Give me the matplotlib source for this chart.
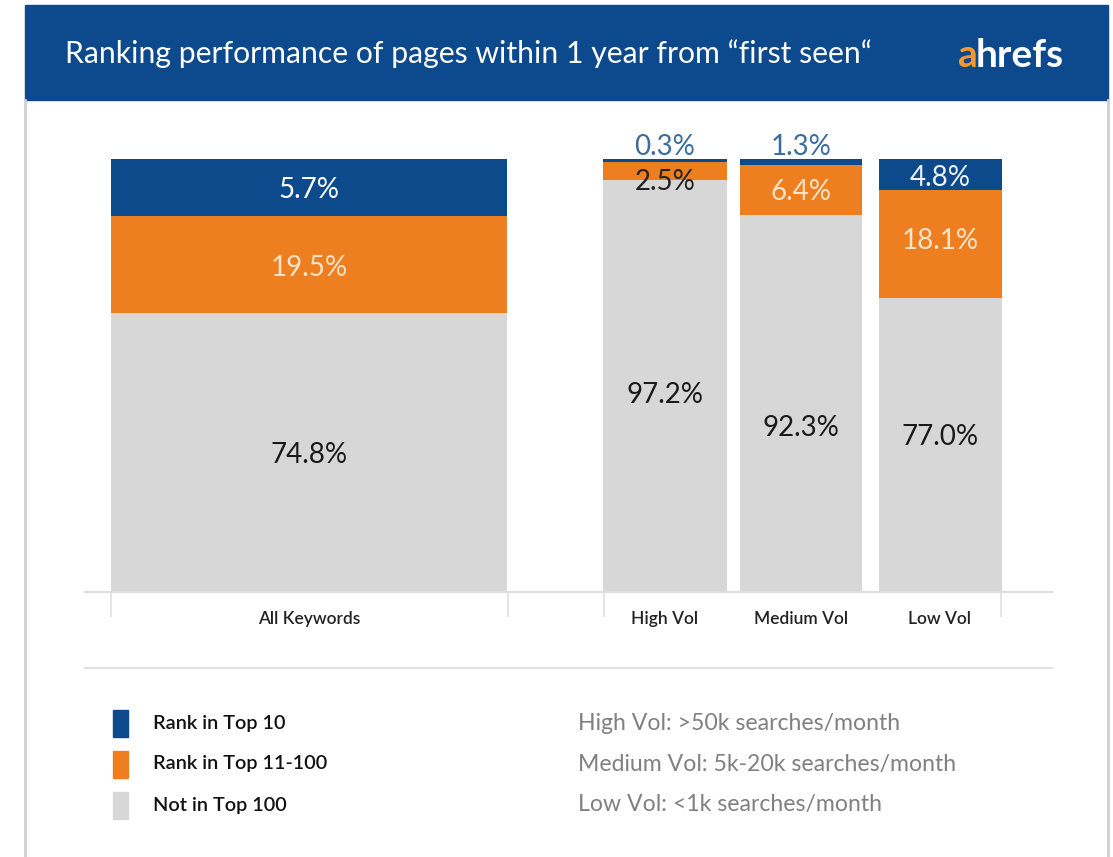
import matplotlib.pyplot as plt
import matplotlib.patches as mpatches

plt.rcParams['font.family'] = ['Lato', 'DejaVu Sans']

# data
categories = ["All Keywords", "High Vol", "Medium Vol", "Low Vol"]
# segment heights as drawn in the picture (% of bar height)
top10_drawn = [13.2, 0.8, 1.4, 7.2]
top100_drawn = [22.4, 4.0, 11.5, 24.9]
not100_drawn = [64.4, 95.2, 87.1, 67.9]
# values printed on the bars
top10_lbl = ["5.7%", "0.3%", "1.3%", "4.8%"]
top100_lbl = ["19.5%", "2.5%", "6.4%", "18.1%"]
not100_lbl = ["74.8%", "97.2%", "92.3%", "77.0%"]
series_names = ["Rank in Top 10", "Rank in Top 11-100", "Not in Top 100"]
vol_notes = ["High Vol: >50k searches/month",
             "Medium Vol: 5k-20k searches/month",
             "Low Vol: <1k searches/month"]
title = "Ranking performance of pages within 1 year from \u201cfirst seen\u201c"

# layout (pixels)
W, H = 1113, 857
x_centers = [309, 665, 801, 940]
widths = [396, 124, 122, 123]
c_blue = "#0d4a8c"
c_orange = "#ee7f20"
c_grey = "#d7d7d7"
c_head = "#0c4a8d"

fig = plt.figure(figsize=(W / 100, H / 100), dpi=100)
fig.patch.set_facecolor("white")

# bars
ax = fig.add_axes([85 / W, 1 - 592 / H, (1052 - 85) / W, (592 - 159) / H])
ax.set_xlim(85, 1052)
ax.set_ylim(0, 100)
ax.patch.set_alpha(0)
ax.bar(x_centers, not100_drawn, widths, color=c_grey)
ax.bar(x_centers, top100_drawn, widths, bottom=not100_drawn, color=c_orange)
bottom2 = [a + b for a, b in zip(not100_drawn, top100_drawn)]
ax.bar(x_centers, top10_drawn, widths, bottom=bottom2, color=c_blue)
for s in ["top", "left", "right"]:
    ax.spines[s].set_visible(False)
ax.spines["bottom"].set_color("#dddddd")
ax.spines["bottom"].set_linewidth(1.5)
ax.set_yticks([])
ax.set_xticks([111, 508, 604, 1001])
ax.set_xticklabels([])
ax.tick_params(axis="x", length=18, color="#e0e0e0", width=1.2)

# overlay in pixel coordinates (on top of the bars)
bg = fig.add_axes([0, 0, 1, 1])
bg.set_zorder(5)
bg.patch.set_alpha(0)
bg.set_xlim(0, W)
bg.set_ylim(H, 0)
bg.axis("off")
bg.add_patch(mpatches.Rectangle((25, 5), 1083, 95, color=c_head, zorder=1))
bg.text(65, 54, title, color="white", fontsize=21.7, va="center", ha="left")
bg.text(958, 55, "a", color="#f39a2c", fontsize=28, fontweight="bold", va="center", ha="left")
bg.text(976, 55, "hrefs", color="white", fontsize=28, fontweight="bold", va="center", ha="left")
bg.plot([25, 25], [100, 857], color="#d0d0d0", lw=2)
bg.plot([1108, 1108], [100, 857], color="#d0d0d0", lw=2)
bg.plot([85, 1052], [668, 668], color="#e2e2e2", lw=1.5)

# legend
leg_y = [723, 764, 805]
for y, col, name in zip(leg_y, [c_blue, c_orange, c_grey], series_names):
    bg.add_patch(mpatches.Rectangle((113, y - 13), 15, 27, color=col))
    bg.text(153, y, name, fontsize=14.3, fontweight="semibold", color="#111111", va="center", ha="left")
for y, note in zip(leg_y, vol_notes):
    bg.text(578, y, note, fontsize=16.6, color="#808080", va="center", ha="left")

# category labels
for xc, cat in zip(x_centers, categories):
    bg.text(xc, 619, cat, fontsize=12.5, fontweight="semibold", color="#222222", ha="center", va="center")

# value labels (pixel y positions as in the picture)
y_top10 = [190, 147, 147, 178]
y_top100 = [268, 182, 192, 241]
y_not100 = [455, 395, 428, 437]
top10_col = ["white", "#3d6b9c", "#3d6b9c", "#eef3fa"]
top100_col = ["#fde3c8", "#222222", "#fde3c8", "#fde3c8"]
for i, xc in enumerate(x_centers):
    bg.text(xc, y_top10[i], top10_lbl[i], fontsize=20, color=top10_col[i], ha="center", va="center")
    bg.text(xc, y_top100[i], top100_lbl[i], fontsize=20, color=top100_col[i], ha="center", va="center")
    bg.text(xc, y_not100[i], not100_lbl[i], fontsize=20, color="#1a1a1a", ha="center", va="center")

fig.savefig("out.png", dpi=100)
